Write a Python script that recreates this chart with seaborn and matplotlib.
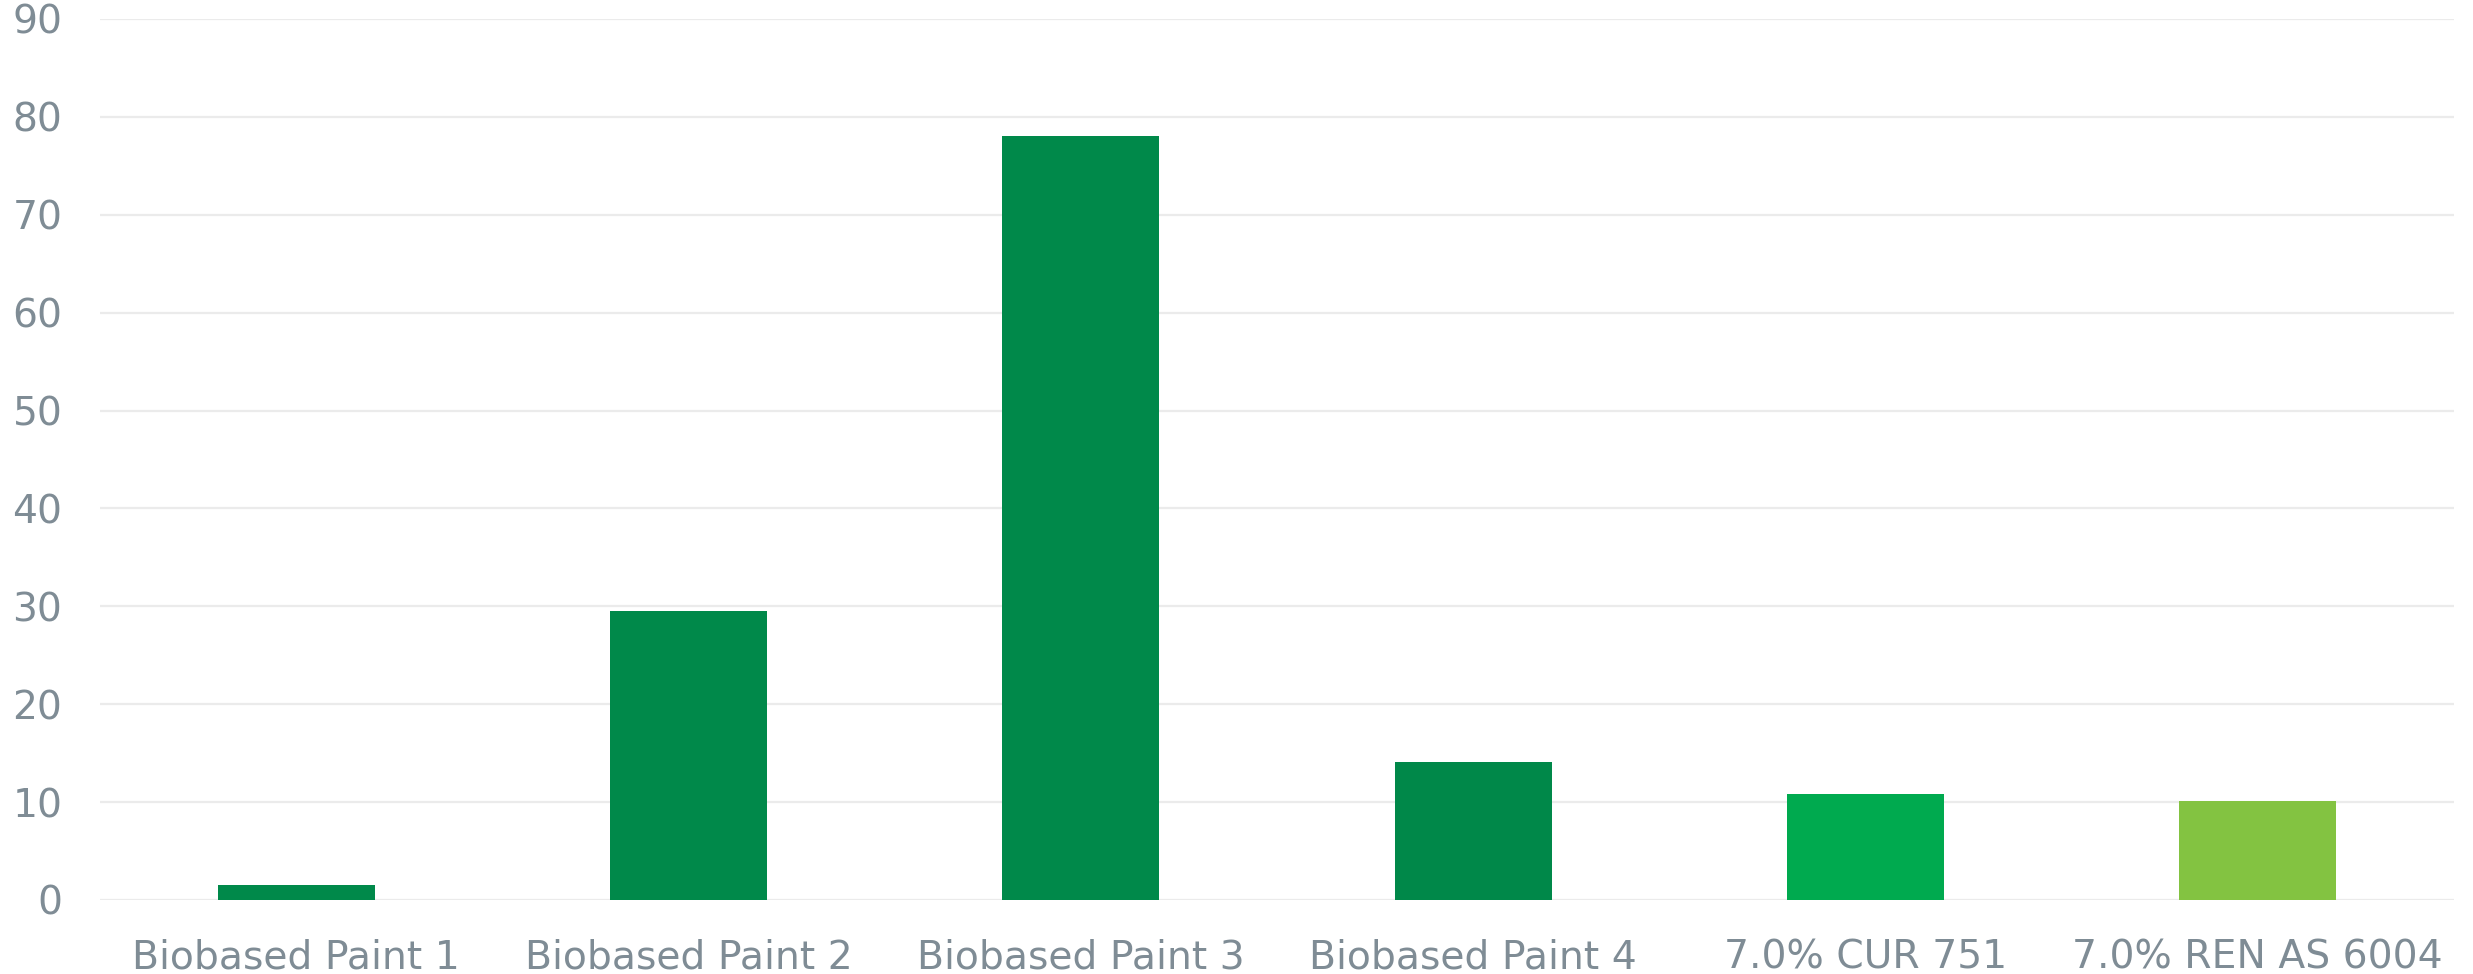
import matplotlib
matplotlib.use("Agg")
import matplotlib.pyplot as plt
import seaborn as sns
import pandas as pd

# Chart data
categories = ["Biobased Paint 1", "Biobased Paint 2", "Biobased Paint 3",
              "Biobased Paint 4", "7.0% CUR 751", "7.0% REN AS 6004"]
values = [1.5, 29.5, 78.0, 14.1, 10.8, 10.1]
bar_colors = ["#00894A", "#00894A", "#00894A", "#008849", "#00AA4F", "#83C341"]
y_ticks = [0, 10, 20, 30, 40, 50, 60, 70, 80, 90]

sns.set_theme(style="white")
plt.rcParams["font.family"] = ["DejaVu Sans"]

df = pd.DataFrame({"category": categories, "value": values})

fig = plt.figure(figsize=(24.73, 9.74), dpi=100)
ax = fig.add_axes([0.0404, 0.076, 0.9519, 0.9045])

sns.barplot(data=df, x="category", y="value", hue="category",
            palette=dict(zip(categories, bar_colors)), width=0.4,
            legend=False, ax=ax, saturation=1, linewidth=0, zorder=3)

ax.set_ylim(0, 90)
ax.set_xlim(-0.5, len(categories) - 0.5)
ax.set_yticks(y_ticks)
ax.set_xlabel("")
ax.set_ylabel("")

text_color = "#7F8C95"
ax.tick_params(axis="y", length=0, pad=27, labelsize=28.3, labelcolor=text_color)
ax.tick_params(axis="x", length=0, pad=28, labelsize=28.3, labelcolor=text_color)

ax.yaxis.grid(True, color="#EBEBEB", linewidth=1.6, zorder=0)
ax.xaxis.grid(False)
for spine in ax.spines.values():
    spine.set_visible(False)

fig.savefig("out.png", dpi=100, facecolor="white")
